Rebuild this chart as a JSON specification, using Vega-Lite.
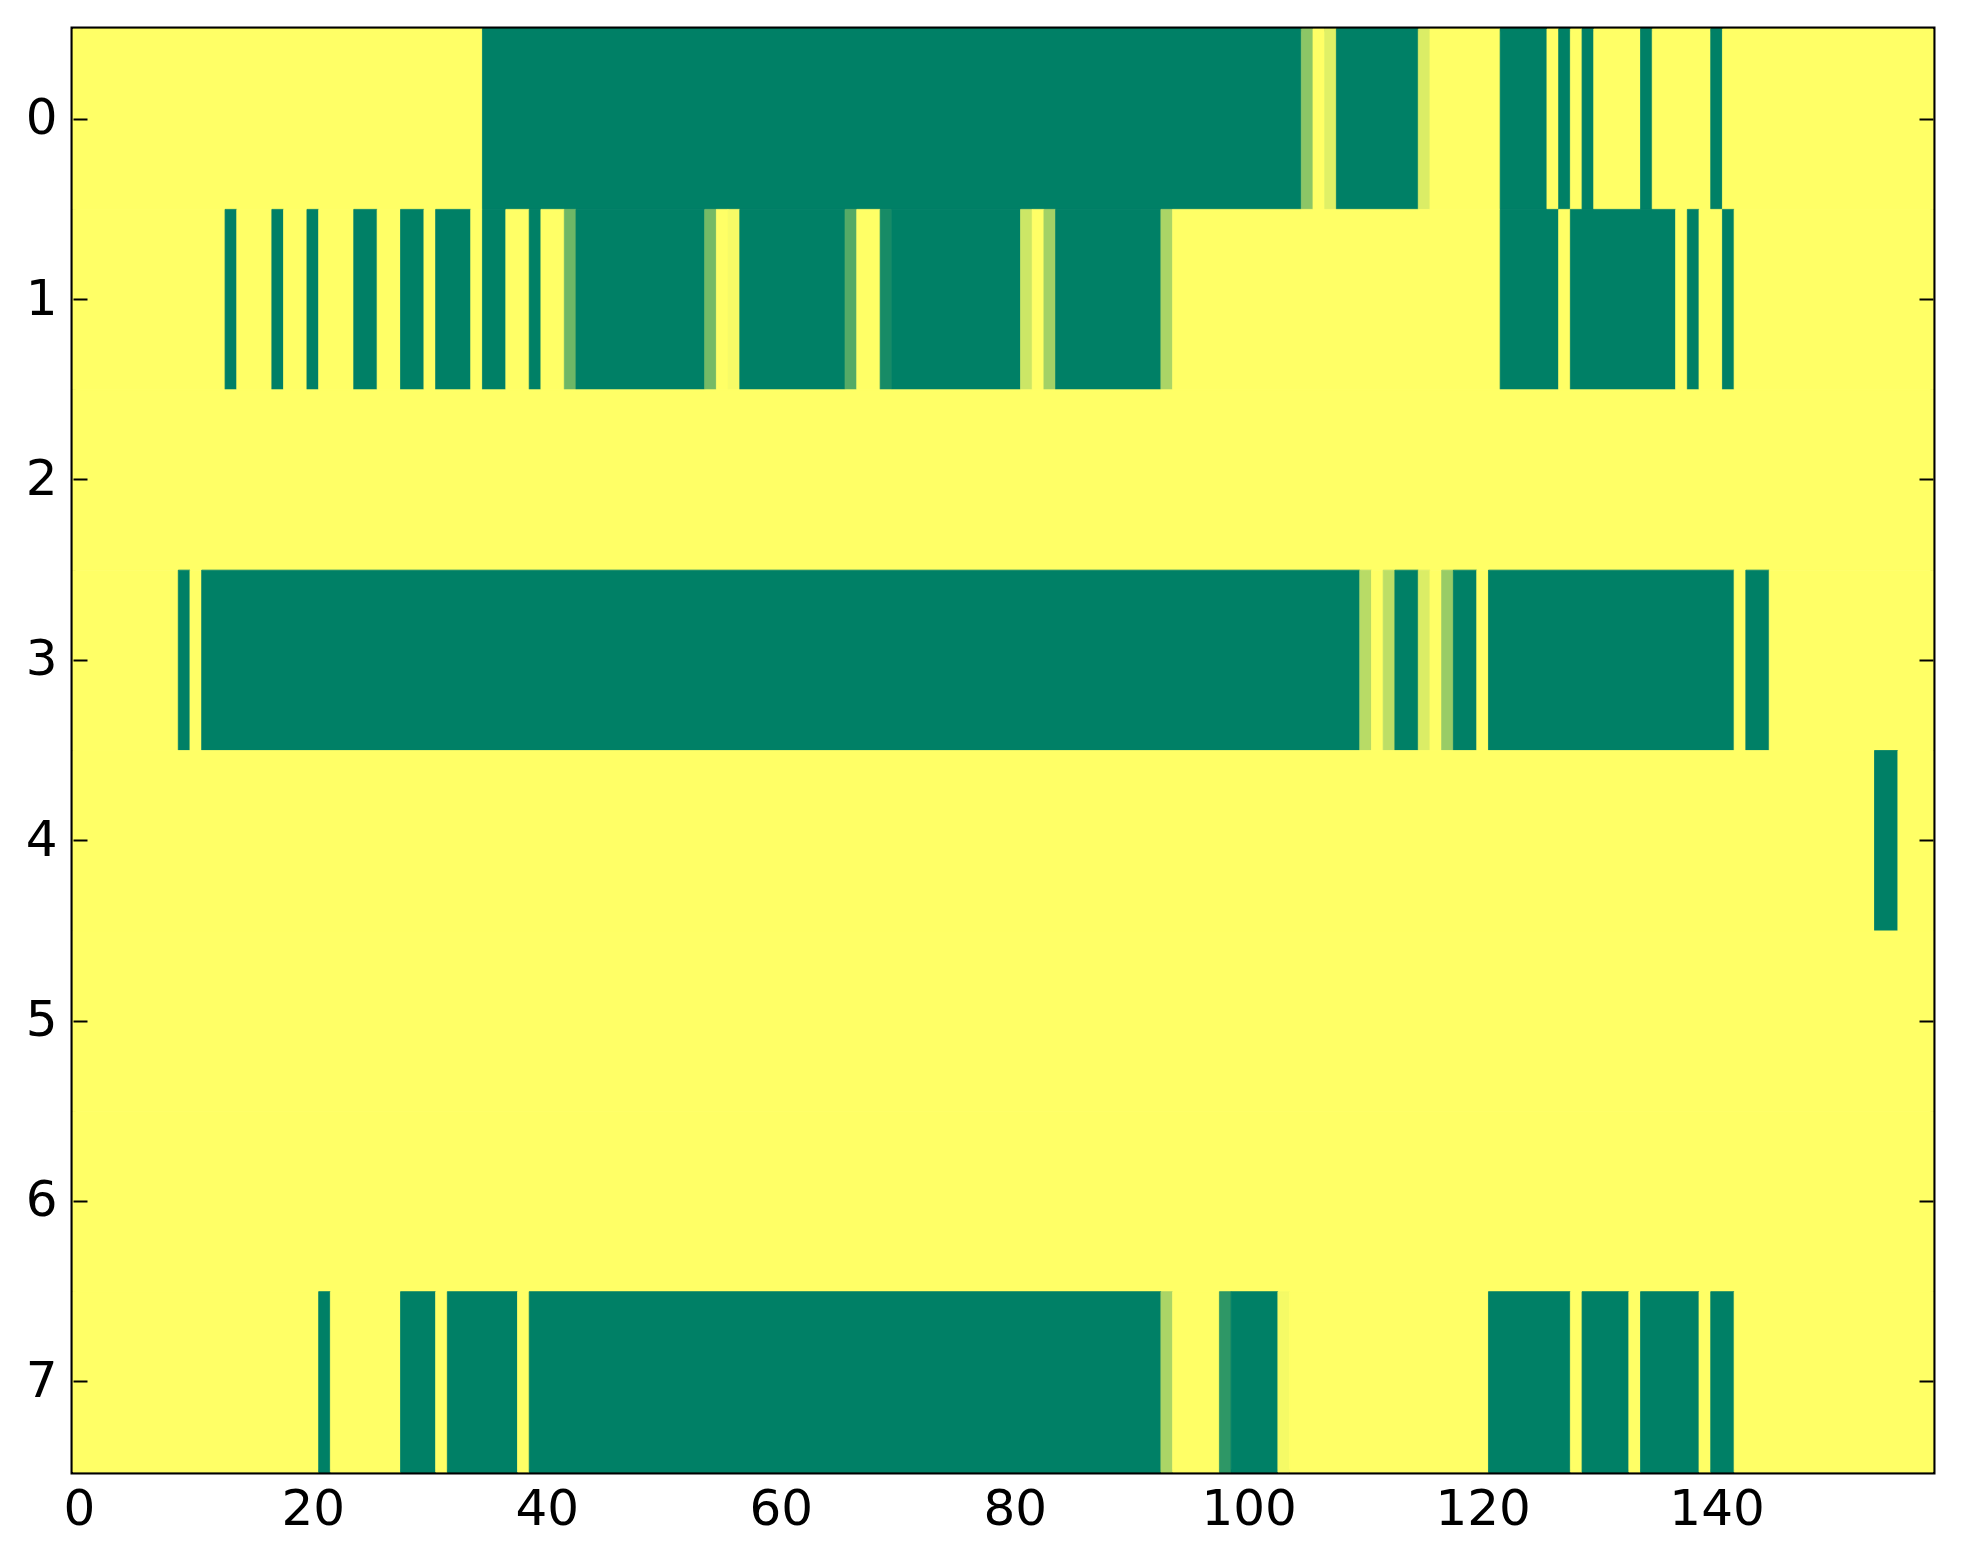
{
  "$schema": "https://vega.github.io/schema/vega-lite/v6.json",
  "width": 1860,
  "height": 1443,
  "autosize": {"type": "none"},
  "padding": {"left": 73, "top": 29, "right": 30, "bottom": 92},
  "background": "white",
  "config": {
    "view": {"stroke": "black", "strokeWidth": 5},
    "axis": {
      "domain": false,
      "grid": false,
      "ticks": true,
      "tickColor": "black",
      "tickWidth": 2,
      "tickSize": -14,
      "labelFont": "DejaVu Sans",
      "labelFontSize": 50,
      "labelColor": "black",
      "title": null
    }
  },
  "data": {
    "values": [
      {"row": 0, "x0": -0.5, "x1": 34.5, "v": 1},
      {"row": 0, "x0": 34.5, "x1": 104.5, "v": 0},
      {"row": 0, "x0": 104.5, "x1": 105.5, "v": 0.55},
      {"row": 0, "x0": 105.5, "x1": 106.5, "v": 1},
      {"row": 0, "x0": 106.5, "x1": 107.5, "v": 0.88},
      {"row": 0, "x0": 107.5, "x1": 114.5, "v": 0},
      {"row": 0, "x0": 114.5, "x1": 115.5, "v": 0.86},
      {"row": 0, "x0": 115.5, "x1": 121.5, "v": 1},
      {"row": 0, "x0": 121.5, "x1": 125.5, "v": 0},
      {"row": 0, "x0": 125.5, "x1": 126.5, "v": 1},
      {"row": 0, "x0": 126.5, "x1": 127.5, "v": 0},
      {"row": 0, "x0": 127.5, "x1": 128.5, "v": 1},
      {"row": 0, "x0": 128.5, "x1": 129.5, "v": 0},
      {"row": 0, "x0": 129.5, "x1": 133.5, "v": 1},
      {"row": 0, "x0": 133.5, "x1": 134.5, "v": 0},
      {"row": 0, "x0": 134.5, "x1": 139.5, "v": 1},
      {"row": 0, "x0": 139.5, "x1": 140.5, "v": 0},
      {"row": 0, "x0": 140.5, "x1": 158.5, "v": 1},

      {"row": 1, "x0": -0.5, "x1": 12.5, "v": 1},
      {"row": 1, "x0": 12.5, "x1": 13.5, "v": 0},
      {"row": 1, "x0": 13.5, "x1": 16.5, "v": 1},
      {"row": 1, "x0": 16.5, "x1": 17.5, "v": 0},
      {"row": 1, "x0": 17.5, "x1": 19.5, "v": 1},
      {"row": 1, "x0": 19.5, "x1": 20.5, "v": 0},
      {"row": 1, "x0": 20.5, "x1": 23.5, "v": 1},
      {"row": 1, "x0": 23.5, "x1": 25.5, "v": 0},
      {"row": 1, "x0": 25.5, "x1": 27.5, "v": 1},
      {"row": 1, "x0": 27.5, "x1": 29.5, "v": 0},
      {"row": 1, "x0": 29.5, "x1": 30.5, "v": 1},
      {"row": 1, "x0": 30.5, "x1": 33.5, "v": 0},
      {"row": 1, "x0": 33.5, "x1": 34.5, "v": 1},
      {"row": 1, "x0": 34.5, "x1": 36.5, "v": 0},
      {"row": 1, "x0": 36.5, "x1": 38.5, "v": 1},
      {"row": 1, "x0": 38.5, "x1": 39.5, "v": 0},
      {"row": 1, "x0": 39.5, "x1": 41.5, "v": 1},
      {"row": 1, "x0": 41.5, "x1": 42.5, "v": 0.43},
      {"row": 1, "x0": 42.5, "x1": 53.5, "v": 0},
      {"row": 1, "x0": 53.5, "x1": 54.5, "v": 0.46},
      {"row": 1, "x0": 54.5, "x1": 55.5, "v": 1},
      {"row": 1, "x0": 55.5, "x1": 56.5, "v": 0.97},
      {"row": 1, "x0": 56.5, "x1": 65.5, "v": 0},
      {"row": 1, "x0": 65.5, "x1": 66.5, "v": 0.33},
      {"row": 1, "x0": 66.5, "x1": 68.5, "v": 1},
      {"row": 1, "x0": 68.5, "x1": 69.5, "v": 0.09},
      {"row": 1, "x0": 69.5, "x1": 80.5, "v": 0},
      {"row": 1, "x0": 80.5, "x1": 81.5, "v": 0.8},
      {"row": 1, "x0": 81.5, "x1": 82.5, "v": 1},
      {"row": 1, "x0": 82.5, "x1": 83.5, "v": 0.64},
      {"row": 1, "x0": 83.5, "x1": 92.5, "v": 0},
      {"row": 1, "x0": 92.5, "x1": 93.5, "v": 0.67},
      {"row": 1, "x0": 93.5, "x1": 121.5, "v": 1},
      {"row": 1, "x0": 121.5, "x1": 126.5, "v": 0},
      {"row": 1, "x0": 126.5, "x1": 127.5, "v": 1},
      {"row": 1, "x0": 127.5, "x1": 136.5, "v": 0},
      {"row": 1, "x0": 136.5, "x1": 137.5, "v": 1},
      {"row": 1, "x0": 137.5, "x1": 138.5, "v": 0},
      {"row": 1, "x0": 138.5, "x1": 140.5, "v": 1},
      {"row": 1, "x0": 140.5, "x1": 141.5, "v": 0},
      {"row": 1, "x0": 141.5, "x1": 158.5, "v": 1},

      {"row": 2, "x0": -0.5, "x1": 158.5, "v": 1},

      {"row": 3, "x0": -0.5, "x1": 8.5, "v": 1},
      {"row": 3, "x0": 8.5, "x1": 9.5, "v": 0},
      {"row": 3, "x0": 9.5, "x1": 10.5, "v": 1},
      {"row": 3, "x0": 10.5, "x1": 109.5, "v": 0},
      {"row": 3, "x0": 109.5, "x1": 110.5, "v": 0.72},
      {"row": 3, "x0": 110.5, "x1": 111.5, "v": 1},
      {"row": 3, "x0": 111.5, "x1": 112.5, "v": 0.74},
      {"row": 3, "x0": 112.5, "x1": 114.5, "v": 0},
      {"row": 3, "x0": 114.5, "x1": 115.5, "v": 0.86},
      {"row": 3, "x0": 115.5, "x1": 116.5, "v": 1},
      {"row": 3, "x0": 116.5, "x1": 117.5, "v": 0.6},
      {"row": 3, "x0": 117.5, "x1": 119.5, "v": 0},
      {"row": 3, "x0": 119.5, "x1": 120.5, "v": 1},
      {"row": 3, "x0": 120.5, "x1": 141.5, "v": 0},
      {"row": 3, "x0": 141.5, "x1": 142.5, "v": 1},
      {"row": 3, "x0": 142.5, "x1": 144.5, "v": 0},
      {"row": 3, "x0": 144.5, "x1": 158.5, "v": 1},

      {"row": 4, "x0": -0.5, "x1": 153.5, "v": 1},
      {"row": 4, "x0": 153.5, "x1": 155.5, "v": 0},
      {"row": 4, "x0": 155.5, "x1": 158.5, "v": 1},

      {"row": 5, "x0": -0.5, "x1": 158.5, "v": 1},
      {"row": 6, "x0": -0.5, "x1": 158.5, "v": 1},

      {"row": 7, "x0": -0.5, "x1": 20.5, "v": 1},
      {"row": 7, "x0": 20.5, "x1": 21.5, "v": 0},
      {"row": 7, "x0": 21.5, "x1": 27.5, "v": 1},
      {"row": 7, "x0": 27.5, "x1": 30.5, "v": 0},
      {"row": 7, "x0": 30.5, "x1": 31.5, "v": 1},
      {"row": 7, "x0": 31.5, "x1": 37.5, "v": 0},
      {"row": 7, "x0": 37.5, "x1": 38.5, "v": 1},
      {"row": 7, "x0": 38.5, "x1": 92.5, "v": 0},
      {"row": 7, "x0": 92.5, "x1": 93.5, "v": 0.67},
      {"row": 7, "x0": 93.5, "x1": 97.5, "v": 1},
      {"row": 7, "x0": 97.5, "x1": 98.5, "v": 0.18},
      {"row": 7, "x0": 98.5, "x1": 102.5, "v": 0},
      {"row": 7, "x0": 102.5, "x1": 103.5, "v": 0.96},
      {"row": 7, "x0": 103.5, "x1": 120.5, "v": 1},
      {"row": 7, "x0": 120.5, "x1": 127.5, "v": 0},
      {"row": 7, "x0": 127.5, "x1": 128.5, "v": 1},
      {"row": 7, "x0": 128.5, "x1": 132.5, "v": 0},
      {"row": 7, "x0": 132.5, "x1": 133.5, "v": 1},
      {"row": 7, "x0": 133.5, "x1": 138.5, "v": 0},
      {"row": 7, "x0": 138.5, "x1": 139.5, "v": 1},
      {"row": 7, "x0": 139.5, "x1": 141.5, "v": 0},
      {"row": 7, "x0": 141.5, "x1": 158.5, "v": 1}
    ]
  },
  "layer": [
    {
      "mark": {"type": "rect", "strokeWidth": 0.8},
      "encoding": {
        "x": {
          "field": "x0",
          "type": "quantitative",
          "scale": {"domain": [-0.5, 158.5], "nice": false, "zero": false},
          "axis": {"orient": "bottom", "values": [0, 20, 40, 60, 80, 100, 120, 140], "labelPadding": 26, "format": "d"}
        },
        "x2": {"field": "x1"},
        "y": {
          "field": "row",
          "type": "ordinal",
          "scale": {"paddingInner": 0, "paddingOuter": 0},
          "axis": {"orient": "left", "labelPadding": 30, "labelAngle": 0}
        },
        "fill": {
          "field": "v",
          "type": "quantitative",
          "scale": {"domain": [0, 1], "range": ["#008066", "#ffff66"], "interpolate": "rgb"},
          "legend": null
        },
        "stroke": {
          "field": "v",
          "type": "quantitative",
          "scale": {"domain": [0, 1], "range": ["#008066", "#ffff66"], "interpolate": "rgb"},
          "legend": null
        }
      }
    },
    {
      "mark": {"type": "rect", "opacity": 0},
      "encoding": {
        "x": {
          "field": "x0",
          "type": "quantitative",
          "axis": {"orient": "top", "values": [0, 20, 40, 60, 80, 100, 120, 140], "labels": false}
        },
        "x2": {"field": "x1"},
        "y": {
          "field": "row",
          "type": "ordinal",
          "axis": {"orient": "right", "labels": false}
        }
      }
    }
  ],
  "resolve": {"axis": {"x": "independent", "y": "independent"}}
}
